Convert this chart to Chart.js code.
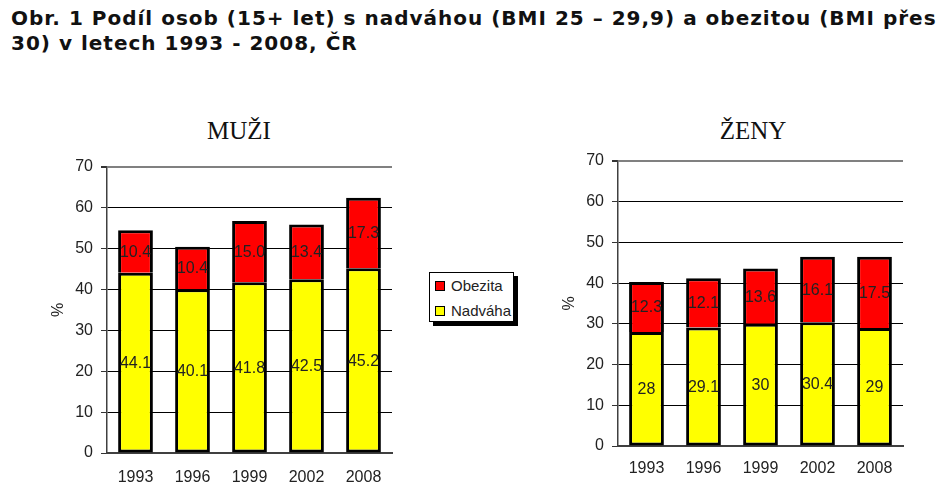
<!DOCTYPE html>
<html>
<head>
<meta charset="utf-8">
<script src="https://cdn.jsdelivr.net/npm/chart.js@4"></script>
<style>
  html, body { margin: 0; padding: 0; background: #fff; overflow: hidden; }
  #page { position: relative; width: 948px; height: 496px; overflow: hidden; }
  #head {
    position: absolute; left: 11px; top: 6px; white-space: nowrap;
    font: bold 20px "DejaVu Sans", Verdana, sans-serif; line-height: 25px; color: #111;
    letter-spacing: 1px;
  }
  .ctitle {
    position: absolute; top: 118px; width: 200px; margin-left: -100px; text-align: center;
    font: 25px "Liberation Serif", "Times New Roman", serif; line-height: 25px; color: #111;
  }
  canvas { position: absolute; }
  #legend {
    position: absolute; left: 429px; top: 272px; width: 83px; height: 48px;
    border: 1px solid #000; background: #fff; box-shadow: 4px 4px 0 #000;
    font: 15px "Liberation Sans", Arial, sans-serif; color: #222;
  }
  .item { position: absolute; left: 5px; height: 18px; line-height: 18px; white-space: nowrap; }
  .item i { display: inline-block; width: 8px; height: 8px; border: 1px solid #000; margin-right: 6px; vertical-align: 0; }
</style>
</head>
<body>
<div id="page">
  <div id="head">Obr. 1 Podíl osob (15+ let) s nadváhou (BMI 25 – 29,9) a obezitou (BMI přes<br>30) v letech 1993 - 2008, ČR</div>
  <div class="ctitle" style="left:239px">MUŽI</div>
  <div class="ctitle" style="left:753px">ŽENY</div>
  <canvas id="men" width="410" height="396" style="left:0;top:100px"></canvas>
  <canvas id="women" width="408" height="396" style="left:548px;top:100px"></canvas>
  <div id="legend"></div>
</div>
<script>
const years = ['1993', '1996', '1999', '2002', '2008'];
const menOverweight = [44.1, 40.1, 41.8, 42.5, 45.2];
const menObese = [10.4, 10.4, 15.0, 13.4, 17.3];
const womenOverweight = [28, 29.1, 30, 30.4, 29];
const womenObese = [12.3, 12.1, 13.6, 16.1, 17.5];

const yellow = '#ffff00';
const red = '#ff0000';

// value labels in the middle of each bar segment
const barLabels = {
  id: 'barLabels',
  afterDatasetsDraw(chart, args, opts) {
    const ctx = chart.ctx;
    ctx.save();
    ctx.font = '16px "Liberation Sans", Arial, sans-serif';
    ctx.fillStyle = '#222';
    ctx.textAlign = 'center';
    ctx.textBaseline = 'middle';
    chart.data.datasets.forEach((ds, i) => {
      chart.getDatasetMeta(i).data.forEach((bar, j) => {
        const p = bar.getProps(['x', 'y', 'base'], true);
        ctx.fillText(opts.format(ds.data[j]), p.x, (p.y + p.base) / 2 + 1);
      });
    });
    ctx.restore();
  }
};

function makeChart(id, overweight, obese, cfg) {
  return new Chart(document.getElementById(id), {
    type: 'bar',
    data: {
      labels: years,
      datasets: [
        { label: 'Nadváha', data: overweight, backgroundColor: yellow, borderSkipped: false },
        { label: 'Obezita', data: obese, backgroundColor: red, borderSkipped: 'start' }
      ]
    },
    options: {
      responsive: false,
      animation: false,
      devicePixelRatio: 1,
      layout: { padding: { left: 0, top: cfg.top, right: cfg.right, bottom: 0 } },
      datasets: {
        bar: {
          borderColor: '#000', borderWidth: 3,
          barPercentage: 0.61, categoryPercentage: 1
        }
      },
      plugins: {
        legend: { display: false },
        tooltip: { enabled: false },
        barLabels: { format: cfg.format }
      },
      scales: {
        x: {
          stacked: true,
          afterFit: s => { s.height = cfg.xHeight; },
          grid: {
            offset: true, drawTicks: false, lineWidth: 2,
            color: c => c.index === years.length ? '#808080' : 'rgba(0,0,0,0)'
          },
          border: { color: '#404040', width: 2 },
          ticks: { color: '#222', padding: cfg.xPad, font: { family: '"Liberation Sans", Arial, sans-serif', size: 16 } }
        },
        y: {
          stacked: true, min: 0, max: 70,
          afterFit: s => { s.width = cfg.yWidth; },
          grid: {
            tickLength: 6, tickColor: '#333',
            color: c => c.tick.value === 70 ? '#808080' : '#000',
            lineWidth: c => c.tick.value === 70 ? 2 : 1
          },
          border: { color: '#404040', width: 1.5 },
          ticks: { stepSize: 10, color: '#222', padding: 8, font: { family: '"Liberation Sans", Arial, sans-serif', size: 16 } },
          title: {
            display: true, text: '%', color: '#222',
            font: { family: '"Liberation Sans", Arial, sans-serif', size: 16 },
            padding: { top: cfg.pctPad, bottom: 0 }
          }
        }
      }
    },
    plugins: [barLabels]
  });
}

const men = makeChart('men', menOverweight, menObese, {
  top: 67, right: 18, xHeight: 43, xPad: 15, yWidth: 107, pctPad: 49,
  format: v => v.toFixed(1)
});
makeChart('women', womenOverweight, womenObese, {
  top: 61, right: 53, xHeight: 50, xPad: 13, yWidth: 70, pctPad: 12,
  format: v => String(v)
});

// legend built from the datasets, listed top to bottom as in the stack
const legend = document.getElementById('legend');
men.data.datasets.slice().reverse().forEach((ds, i) => {
  const el = document.createElement('div');
  el.className = 'item';
  el.style.top = (4 + i * 25) + 'px';
  el.innerHTML = '<i style="background:' + ds.backgroundColor + '"></i>' + ds.label;
  legend.appendChild(el);
});
</script>
</body>
</html>
